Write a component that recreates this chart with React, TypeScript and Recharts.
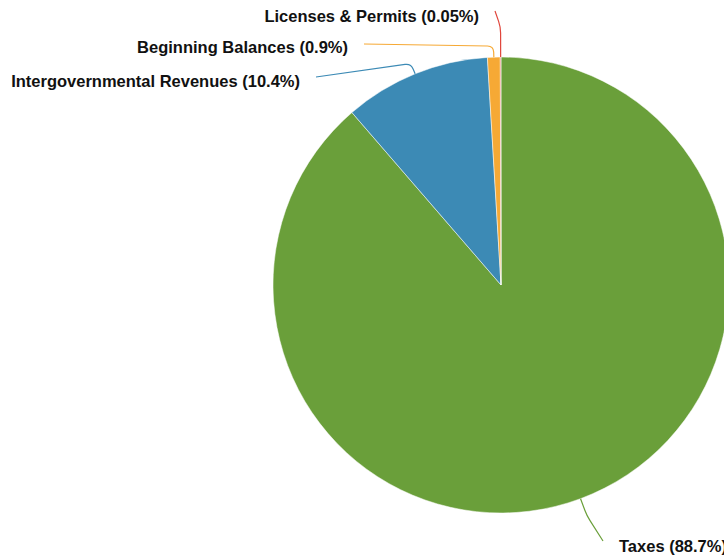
import React from "react";
import { PieChart, Pie, Cell } from "recharts";

const categories = [
  "Taxes",
  "Intergovernmental Revenues",
  "Beginning Balances",
  "Licenses & Permits",
];
const shares = [88.7, 10.4, 0.9, 0.05];
const shareLabels = ["88.7%", "10.4%", "0.9%", "0.05%"];
const colors = ["#6a9f3a", "#3c8ab5", "#f6a935", "#e0453b"];

// label layout hints (elbow extension beyond radius, line end relative to pie center, text side)
const labelLayout = [
  { ext: 18, dx: 102, dy: 256, side: 1, ty: 5 },
  { ext: 11, dx: -185, dy: -208, side: -1, ty: 4 },
  { ext: 11, dx: -137, dy: -241, side: -1, ty: 3 },
  { ext: 30, dx: -6, dy: -274, side: -1, ty: 5 },
];

const data = categories.map((name, i) => ({
  name,
  value: shares[i],
  label: shareLabels[i],
}));

const RAD = Math.PI / 180;

const renderLabel = (props: any) => {
  const { cx, cy, midAngle, outerRadius, index } = props;
  const L = labelLayout[index];
  const c = Math.cos(-midAngle * RAD);
  const s = Math.sin(-midAngle * RAD);
  const sx = cx + outerRadius * c;
  const sy = cy + outerRadius * s;
  const ex = cx + (outerRadius + L.ext) * c;
  const ey = cy + (outerRadius + L.ext) * s;
  const tx = cx + L.dx;
  const ty = cy + L.dy;
  const k = Math.min(6, L.ext * 0.6);
  const ax = ex - k * c;
  const ay = ey - k * s;
  const vx = tx - ex;
  const vy = ty - ey;
  const vl = Math.sqrt(vx * vx + vy * vy) || 1;
  const bx = ex + (vx / vl) * k;
  const by = ey + (vy / vl) * k;
  const d = `M${sx},${sy} L${ax},${ay} Q${ex},${ey} ${bx},${by} L${tx},${ty}`;
  const textX = tx + L.side * 16;
  return (
    <g key={`lab-${index}`}>
      <path d={d} fill="none" stroke={colors[index]} strokeWidth={1.2} />
      <text
        x={textX}
        y={ty + L.ty}
        dy="0.35em"
        textAnchor={L.side > 0 ? "start" : "end"}
        fontFamily="'Liberation Sans', Arial, Helvetica, sans-serif"
        fontWeight="bold"
        fontSize={16.5}
        fill="#111"
      >
        {`${categories[index]} (${shareLabels[index]})`}
      </text>
    </g>
  );
};

export default function App() {
  return (
    <div style={{ position: "absolute", left: 0, top: 0, width: 724, height: 559, background: "#fff" }}>
      <PieChart width={724} height={559} margin={{ top: 0, right: 0, bottom: 0, left: 0 }}>
        <Pie
          data={data}
          dataKey="value"
          nameKey="name"
          cx={501}
          cy={285}
          outerRadius={228}
          startAngle={90}
          endAngle={-270}
          stroke="#ffffff"
          strokeWidth={0.5}
          label={renderLabel}
          labelLine={false}
          isAnimationActive={false}
        >
          {data.map((d, i) => (
            <Cell key={d.name} fill={colors[i]} />
          ))}
        </Pie>
      </PieChart>
    </div>
  );
}
